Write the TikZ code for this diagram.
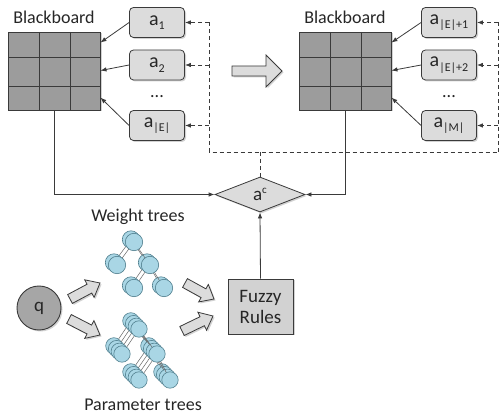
\documentclass[tikz,border=0pt]{standalone}
\usepackage{fontspec}
\setmainfont{Carlito}
\usetikzlibrary{calc,shapes.geometric,arrows.meta,shadows}
\definecolor{gridgray}{HTML}{9C9C9C}
\definecolor{boxgray}{HTML}{DCDCDC}
\definecolor{fuzzgray}{HTML}{D2D2D2}
\definecolor{linegray}{HTML}{3A3A3A}
\definecolor{treefill}{HTML}{A9D6E5}
\definecolor{treeline}{HTML}{52808F}
\definecolor{qgray}{HTML}{A6A6A6}
\definecolor{txt}{HTML}{262626}
\newcommand\subt[1]{\raisebox{-0.45ex}{\fontsize{12}{12}\selectfont #1}}
\newcommand\supt[1]{\raisebox{0.85ex}{\fontsize{11}{11}\selectfont #1}}
\newcommand\blockarrow[5]{%
  \coordinate (baS) at #1;
  \coordinate (baE) at #2;
  \coordinate (baH) at ($(baE)!#5!(baS)$);
  \filldraw[blockstyle] ($(baS)!#3!90:(baE)$) -- ($(baH)!#3!90:(baE)$) -- ($(baH)!#4!90:(baE)$) -- (baE) -- ($(baH)!#4!-90:(baE)$) -- ($(baH)!#3!-90:(baE)$) -- ($(baS)!#3!-90:(baE)$) -- cycle;
}
\tikzset{
  shad/.style={drop shadow={shadow xshift=1.5pt, shadow yshift=-1.5pt, fill=black!35, opacity=0.5}},
  agent/.style={draw=linegray, fill=boxgray, rounded corners=4pt, minimum width=55pt, minimum height=30pt, inner sep=0pt, line width=0.8pt, shad, text=txt, font=\fontsize{20}{22}\selectfont},
  gridbox/.style={draw=linegray, fill=gridgray, minimum width=92pt, minimum height=78pt, inner sep=0pt, line width=0.9pt, shad},
  gridline/.style={draw=linegray, line width=0.9pt},
  lbl/.style={text=txt, font=\fontsize{18}{21}\selectfont, inner sep=0pt},
  conn/.style={draw=linegray, line width=0.8pt, -{Latex[length=6pt,width=4.5pt]}},
  dconn/.style={draw=linegray, line width=0.8pt, dash pattern=on 4pt off 3pt, -{Latex[length=6pt,width=4.5pt]}},
  dline/.style={draw=linegray, line width=0.8pt, dash pattern=on 4pt off 3pt},
  blockstyle/.style={draw=linegray, fill=boxgray, line width=0.8pt, line join=miter, shad},
  tnode/.style={draw=treeline, fill=treefill, line width=0.6pt},
  tedge/.style={draw=gray!80!black, line width=0.5pt},
}
\begin{document}
\begin{tikzpicture}[x=1pt,y=-1pt]
\useasboundingbox (0,0) rectangle (499,417);

% ---------- left blackboard ----------
\node[lbl] (t1) at (54,17) {Blackboard};
\node[gridbox] (bb1) at (54,71) {};
\draw[gridline] (39,32) -- (39,110) (70,32) -- (70,110) (8,57) -- (100,57) (8,86) -- (100,86);

\node[agent] (a1) at (157,22.5) {a\subt{1}};
\node[agent] (a2) at (157,65) {a\subt{2}};
\node[lbl] (d1) at (157,97) {...};
\node[agent] (aE) at (157,125.5) {a\subt{|E|}};

\draw[conn] (a1.west) -- ($(bb1.north east)+(0,11)$);
\draw[conn] (a2.west) -- ($(bb1.north east)+(0,39)$);
\draw[conn] (aE.west) -- ($(bb1.north east)+(0,66)$);

% ---------- big arrow ----------
\blockarrow{(232,71)}{(282,71)}{5pt}{16pt}{16pt}

% ---------- right blackboard ----------
\node[lbl] (t2) at (345,17) {Blackboard};
\node[gridbox] (bb2) at (345,71) {};
\draw[gridline] (330,32) -- (330,110) (361,32) -- (361,110) (299,57) -- (391,57) (299,86) -- (391,86);

\node[agent] (b1) at (449,22.5) {a\subt{|E|+1}};
\node[agent] (b2) at (449,65) {a\subt{|E|+2}};
\node[lbl] (d2) at (449,97) {...};
\node[agent] (bM) at (449,125.5) {a\subt{|M|}};

\draw[conn] (b1.west) -- ($(bb2.north east)+(0,11)$);
\draw[conn] (b2.west) -- ($(bb2.north east)+(0,39)$);
\draw[conn] (bM.west) -- ($(bb2.north east)+(0,66)$);

% ---------- dashed feedback ----------
\coordinate (vl) at (209,152);
\coordinate (vr) at (498,152);
\coordinate (edge) at (499,152);
\draw[dline] (a1.east -| vl) -- (vl) -- (edge);
\draw[dconn] (a1.east -| vl) -- (a1.east);
\draw[dconn] (a2.east -| vl) -- (a2.east);
\draw[dconn] (aE.east -| vl) -- (aE.east);
\draw[dline] (b1.east -| vr) -- (vr);
\draw[dconn] (b1.east -| vr) -- (b1.east);
\draw[dconn] (b2.east -| vr) -- (b2.east);
\draw[dconn] (bM.east -| vr) -- (bM.east);

% ---------- combiner ----------
\node[diamond, draw=linegray, fill=boxgray, line width=0.8pt, minimum width=90pt, minimum height=35pt, inner sep=0pt, aspect=2.5, text=txt, font=\fontsize{19}{21}\selectfont, shad] (dia) at (260,194.5) {a\supt{c}};
\draw[dline] (dia.north |- vl) -- (dia.north);
\draw[conn] (bb1.south) |- (dia.west);
\draw[conn] (bb2.south) |- (dia.east);

% ---------- fuzzy rules ----------
\node[draw=linegray, fill=fuzzgray, line width=0.9pt, minimum width=65pt, minimum height=55pt, align=center, text=txt, font=\fontsize{19}{21}\selectfont, shad] (fz) at (260.5,306.5) {Fuzzy\\Rules};
\draw[conn] (fz.north) -- (dia.south);

% ---------- q ----------
\node[circle, draw=linegray, fill=qgray, line width=0.9pt, minimum size=44pt, inner sep=0pt, text=txt, font=\fontsize{19}{21}\selectfont, shad] (q) at (39,308) {q};

% ---------- labels ----------
\node[lbl] (wt) at (138,217) {Weight trees};
\node[lbl] (pt) at (143,405) {Parameter trees};

% ---------- weight tree ----------
\foreach \k in {1,0} {
  \begin{scope}[shift={(-3*\k,-2.5*\k)}]
    \draw[tedge] (134,242) -- (117,265) (134,242) -- (150,265) (150,265) -- (134,288) (150,265) -- (164,288);
    \foreach \p in {(134,242),(117,265),(150,265),(134,288),(164,288)}
      \filldraw[tnode] \p circle[radius=8.7pt];
  \end{scope}
}

% ---------- parameter tree ----------
\foreach \k in {3,2,1,0} {
  \begin{scope}[shift={(-2.7*\k,-2.7*\k)}]
    \draw[tedge] (139,329) -- (122,354) (139,329) -- (157,354) (157,354) -- (139,380) (157,354) -- (170,380);
    \foreach \p in {(139,329),(122,354),(157,354),(139,380),(170,380)}
      \filldraw[tnode] \p circle[radius=8.2pt];
  \end{scope}
}

% ---------- small block arrows ----------
\blockarrow{(70,299)}{(100,283)}{5pt}{10pt}{12pt}
\blockarrow{(69,319)}{(100,335)}{5pt}{10pt}{12pt}
\blockarrow{(185,283)}{(214,299)}{5pt}{10pt}{12pt}
\blockarrow{(182,331)}{(213,316)}{5pt}{10pt}{12pt}
\end{tikzpicture}
\end{document}
